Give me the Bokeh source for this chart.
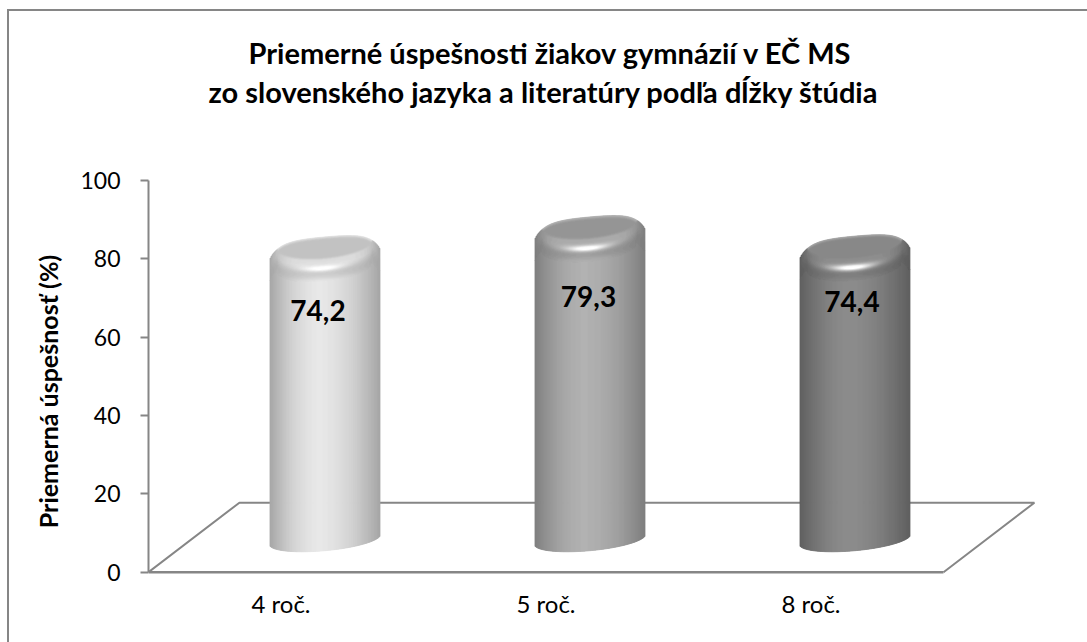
import math
from bokeh.plotting import figure
from bokeh.models import FixedTicker, ColumnDataSource, Range1d, Title
from bokeh.core.properties import value
from bokeh.embed import file_html
from bokeh.resources import INLINE

categories = ["4 roč.", "5 roč.", "8 roč."]
values = [74.2, 79.3, 74.4]
value_labels = ["74,2", "79,3", "74,4"]
y_ticks = [0, 20, 40, 60, 80, 100]
title_lines = ["Priemerné úspešnosti žiakov gymnázií v EČ MS",
               "zo slovenského jazyka a literatúry podľa dĺžky štúdia"]
y_title = "Priemerná úspešnosť (%)"

# style / layout
FONT = "Lato"
AXIS = "#868686"
W, H = 1087, 642
MARGIN_T, MARGIN_L = 9, 7      # place of the chart's border on the page
AX_X, Y100, Y0, FRAME_BOTTOM = 148, 180, 571.7, 602
PX_X = 265.0
PX_Y = (Y0 - Y100) / 100.0
DEPTH_X, DEPTH_Y = 0.343, 17.75
EDGE = [0xa6, 0x7e, 0x60]
CENTER = [0xe8, 0xb2, 0x8c]
CAP = [0xc4, 0x98, 0x8a]
BAND = [0xe0, 0xae, 0x92]
LABEL_DX = [-7, -1.5, -3]
LABEL_DY = [29, 35, 21]

y_low = -(FRAME_BOTTOM - Y0) / PX_Y
p = figure(width=W - MARGIN_L, height=H - MARGIN_T, output_backend="svg", toolbar_location=None,
           x_range=Range1d(0, (W - AX_X + 2) / PX_X), y_range=Range1d(y_low, 100),
           min_border_left=AX_X - MARGIN_L - 2, min_border_top=Y100 - MARGIN_T - 2,
           min_border_bottom=H - FRAME_BOTTOM + 2, min_border_right=0,
           outline_line_color=None, background_fill_color="white", border_fill_color="white",
           margin=(MARGIN_T, 0, 0, MARGIN_L),
           styles={"border-top": "2px solid " + AXIS, "border-left": "2px solid " + AXIS, "box-sizing": "border-box"})
p.grid.visible = False

# axes
ya = p.yaxis[0]
ya.bounds = (0, 100)
ya.ticker = FixedTicker(ticks=y_ticks)
ya.major_label_text_font = FONT
ya.major_label_text_font_size = "23px"
ya.major_label_text_color = "black"
ya.axis_line_color = AXIS
ya.axis_line_width = 2
ya.major_tick_line_color = AXIS
ya.major_tick_line_width = 2
ya.major_tick_out = 8
ya.major_tick_in = 0
ya.minor_tick_line_color = None
ya.major_label_standoff = 20
ya.axis_label = y_title
ya.axis_label_text_font = FONT
ya.axis_label_text_font_style = "bold"
ya.axis_label_text_font_size = "25px"
ya.axis_label_text_color = "black"
ya.axis_label_standoff = 14

xa = p.xaxis[0]
xa.ticker = FixedTicker(ticks=[i + 0.5 for i in range(len(categories))])
xa.major_label_overrides = {i + 0.5: c for i, c in enumerate(categories)}
xa.major_label_text_font = FONT
xa.major_label_text_font_size = "24px"
xa.major_label_text_color = "black"
xa.axis_line_color = None
xa.major_tick_line_color = None
xa.minor_tick_line_color = None
xa.major_label_standoff = -20

# floor
n = len(categories)
p.line([0, n], [0, 0], line_color=AXIS, line_width=2.5)
p.line([0, DEPTH_X, n + DEPTH_X, n], [0, DEPTH_Y, DEPTH_Y, 0], line_color=AXIS, line_width=2)


def clamp(c):
    return max(0, min(255, int(round(c))))


def grey(c):
    c = clamp(c)
    return "#%02x%02x%02x" % (c, c, c)


def smooth(t):
    t = max(0.0, min(1.0, t))
    return t * t * (3 - 2 * t)


A = 55.25          # half width of a cylinder, px
TILT = -5.0        # px, tilt of the ellipses
BELL = 11.0        # px, semi-axis of the ellipses
BASE = 8.3         # value of the base centre
LIFT = 8.6         # value of the top centre above the bar value
OFFS = 0.5 + 0.166

left, right, top, bottom, color = [], [], [], [], []


def cell(cx, x0, x1, y0, y1, c):
    left.append(cx + x0 / PX_X)
    right.append(cx + x1 / PX_X)
    top.append(y0)
    bottom.append(y1)
    color.append(grey(c))


for i, v in enumerate(values):
    cx = i + OFFS
    ytc = v + LIFT
    abs0 = Y0 - ytc * PX_Y
    for px in range(-55, 55):
        u = (px + 0.5) / A
        s = (u + 0.1) / (0.9 if u < -0.1 else 1.1)
        body = EDGE[i] + (CENTER[i] - EDGE[i]) * (1 - abs(s) ** 1.7)
        sq = math.sqrt(max(0, 1 - u * u))
        ybot = BASE - (TILT * u + BELL * sq) / PX_Y
        sil = TILT * u - BELL * math.sqrt(max(0, 1 - abs(u) ** 2.5)) + 8 * abs(u) ** 6
        uf = min(abs(u) / 0.86, 1)
        front = TILT * u - 3 + (BELL + 3) * math.sqrt(1 - uf * uf)
        band_h = 22.0
        bottom_of_cap = max(front, sil) + band_h
        ymid = ytc - bottom_of_cap / PX_Y
        cell(cx, px, px + 1, ymid, ybot, body)
        y = sil
        while y < bottom_of_cap:
            # rows on whole pixels, so that neighbouring columns line up
            y2 = min(math.ceil(abs0 + y + 1e-6) - abs0, bottom_of_cap + 0.5)
            m = (y + y2) / 2
            dedge = (m - sil) / 4.0
            cap = CAP[i] + max(0, 1 - dedge) ** 2 * 40
            d = (m - max(front, sil)) / band_h
            k = smooth((d - 0.3) / 0.7)
            dip = math.sin(min(1, max(0, (d - 0.3) / 0.7)) * math.pi) * 0.10 * BAND[i]
            band = BAND[i] * (1 - k) + body * k - dip
            hx = (px + 3) / 22.0
            hy = (m - (front + 9.5)) / 3.0
            hl = math.exp(-(hx * hx) - (hy * hy))
            band = band + (255 - band) * min(1, hl * 1.2)
            w = abs(u) ** 2.5
            band = band * (1 - w) + body * w
            mix = smooth((m - front + 2) / 4.0)
            c = cap * (1 - mix) + band * mix
            cell(cx, px, px + 1, ytc - y / PX_Y, ytc - y2 / PX_Y, c)
            y = y2

src = ColumnDataSource(dict(left=left, right=right, top=top, bottom=bottom, color=color))
p.quad(left="left", right="right", top="top", bottom="bottom", source=src,
       fill_color="color", line_color="color", line_width=0.8)

# value labels
lab = ColumnDataSource(dict(x=[i + OFFS for i in range(n)], y=values, t=value_labels, dx=LABEL_DX, dy=LABEL_DY))
p.text(x="x", y="y", text="t", x_offset="dx", y_offset="dy", source=lab, text_align="center", text_baseline="middle",
       text_font=value(FONT), text_font_style="bold", text_font_size="28px", text_color="black")

# title: an empty spacer next to the plot, then the two lines
p.add_layout(Title(text=" ", standoff=37, text_font_size="29px"), "above")
p.add_layout(Title(text=title_lines[1], align="left", offset=208 - AX_X, standoff=2, text_font=FONT,
                   text_font_style="bold", text_font_size="29px", text_color="black"), "above")
p.add_layout(Title(text=title_lines[0], align="left", offset=248 - AX_X, standoff=2, text_font=FONT,
                   text_font_style="bold", text_font_size="29px", text_color="black"), "above")

open("out.html", "w").write(file_html(p, INLINE))
